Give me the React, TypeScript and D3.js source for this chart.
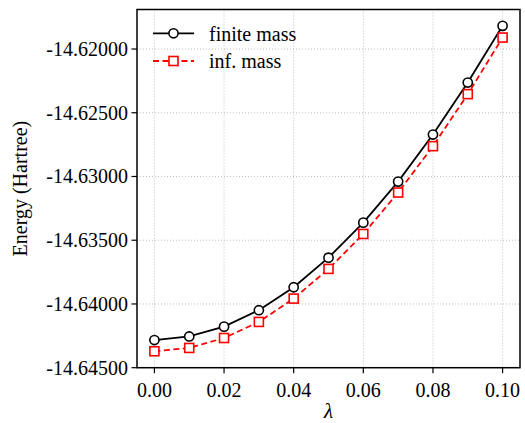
import React from "react";
import * as d3 from "d3";

const lambdas = [0.0, 0.01, 0.02, 0.03, 0.04, 0.05, 0.06, 0.07, 0.08, 0.09, 0.1];
const finiteMass = [-14.64283, -14.64255, -14.64178, -14.64049, -14.63869, -14.63637, -14.63362, -14.6304, -14.62671, -14.62263, -14.61818];
const infMass = [-14.64371, -14.64345, -14.64267, -14.64141, -14.63958, -14.63725, -14.63451, -14.63126, -14.62762, -14.62354, -14.6191];
const xTicks = [0.0, 0.02, 0.04, 0.06, 0.08, 0.1];
const yTicks = [-14.62, -14.625, -14.63, -14.635, -14.64, -14.645];
const seriesNames = ["finite mass", "inf. mass"];

const W = 525, H = 423;
const L = 137, R = 520, T = 9.5, B = 367.7;
const FONT = "Liberation Serif";

export default function App() {
  const x = d3.scaleLinear().domain([-0.005, 0.105]).range([L, R]);
  const y = d3.scaleLinear().domain([-14.645, -14.6169]).range([B, T]);
  const line = d3.line<number>().x((_, i) => x(lambdas[i])).y((d) => y(d));
  const fs = 20;
  return (
    <svg width={W} height={H} style={{ position: "absolute", left: 0, top: 0, fontFamily: FONT }}>
      <rect width={W} height={H} fill="white" />
      {xTicks.map((t) => (
        <line key={"gx" + t} x1={x(t)} x2={x(t)} y1={T} y2={B} stroke="#b0b0b0" strokeWidth={0.8} strokeDasharray="1,2" />
      ))}
      {yTicks.map((t) => (
        <line key={"gy" + t} x1={L} x2={R} y1={y(t)} y2={y(t)} stroke="#b0b0b0" strokeWidth={0.8} strokeDasharray="1,2" />
      ))}
      <path d={line(infMass) || ""} fill="none" stroke="#ff0000" strokeWidth={1.8} strokeDasharray="6,3.5" />
      <path d={line(finiteMass) || ""} fill="none" stroke="black" strokeWidth={1.8} />
      {finiteMass.map((v, i) => (
        <circle key={"c" + i} cx={x(lambdas[i])} cy={y(v)} r={4.6} fill="white" stroke="black" strokeWidth={1.6} />
      ))}
      {infMass.map((v, i) => (
        <rect key={"s" + i} x={x(lambdas[i]) - 4.5} y={y(v) - 4.5} width={9} height={9} fill="white" stroke="#ff0000" strokeWidth={1.6} />
      ))}
      <rect x={L} y={T} width={R - L} height={B - T} fill="none" stroke="black" strokeWidth={1.5} />
      {xTicks.map((t) => (
        <g key={"xt" + t}>
          <line x1={x(t)} x2={x(t)} y1={B} y2={B + 5.5} stroke="black" strokeWidth={1.2} />
          <text x={x(t)} y={B + 29} textAnchor="middle" fontSize={fs}>{t.toFixed(2)}</text>
        </g>
      ))}
      {yTicks.map((t) => (
        <g key={"yt" + t}>
          <line x1={L - 5.5} x2={L} y1={y(t)} y2={y(t)} stroke="black" strokeWidth={1.2} />
          <text x={L - 9} y={y(t)} dy="0.35em" textAnchor="end" fontSize={fs}>{t.toFixed(5)}</text>
        </g>
      ))}
      <text x={(L + R) / 2} y={418} textAnchor="middle" fontSize={21} fontStyle="italic">λ</text>
      <text transform={`translate(27,${(T + B) / 2}) rotate(-90)`} textAnchor="middle" fontSize={fs}>Energy (Hartree)</text>
      <g>
        <line x1={153} x2={194} y1={33.3} y2={33.3} stroke="black" strokeWidth={1.8} />
        <circle cx={173.5} cy={33.3} r={4.6} fill="white" stroke="black" strokeWidth={1.6} />
        <text x={209} y={40.5} fontSize={fs}>{seriesNames[0]}</text>
        <line x1={153} x2={194} y1={61} y2={61} stroke="#ff0000" strokeWidth={1.8} strokeDasharray="6,3.5" />
        <rect x={173.5 - 4.5} y={61 - 4.5} width={9} height={9} fill="white" stroke="#ff0000" strokeWidth={1.6} />
        <text x={209} y={67.5} fontSize={fs}>{seriesNames[1]}</text>
      </g>
    </svg>
  );
}
